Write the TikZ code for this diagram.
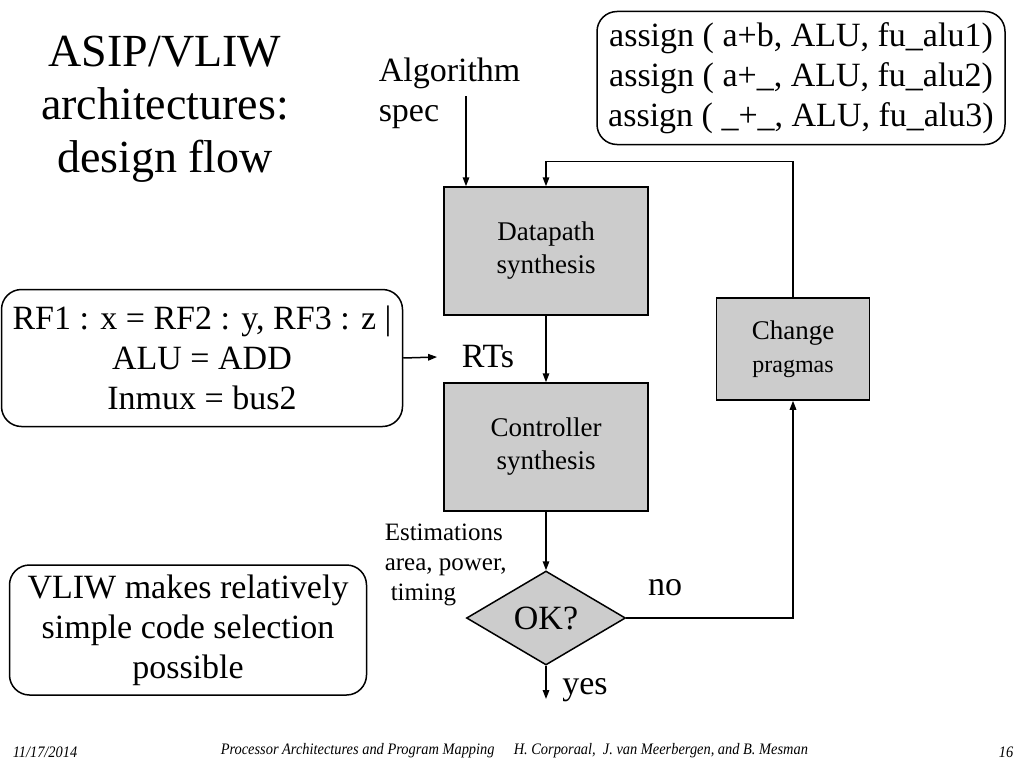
\documentclass[tikz,border=0pt]{standalone}
\usepackage{fontspec}
\setmainfont{Liberation Serif}
\usetikzlibrary{shapes.geometric,arrows.meta}
\tikzset{
  gbox/.style={draw, fill=black!20, inner sep=0pt, align=center, font=\fontsize{27}{33}\selectfont},
  rbox/.style={draw, rounded corners=20pt, inner sep=0pt, align=center},
  foot/.style={font=\fontsize{16}{18}\selectfont\itshape, inner sep=0pt}
}
\begin{document}
\begin{tikzpicture}[x=1pt, y=-1pt, line width=1.5pt, font=\fontsize{34}{40}\selectfont, >={Triangle[length=9pt,width=6.5pt]}]
	\useasboundingbox (0,0) rectangle (1024,768);
	\node[align=center, font=\fontsize{46}{53}\selectfont] (TT) at (165,109) {ASIP/VLIW\\architectures:\\design flow};
	\node[align=left, anchor=west, inner sep=0pt] (AL) at (378,93) {Algorithm\\spec};
	\coordinate (AT) at (466,96);
	\node[rbox, minimum width=408, minimum height=133] (AS) at (801,78) {assign ( a+b, ALU, fu\_alu1)\\assign ( a+\_, ALU, fu\_alu2)\\assign ( \_+\_, ALU, fu\_alu3)};
	\node[gbox, minimum width=204, minimum height=128] (DP) at (546,251) {\raisebox{-4pt}{\parbox{180pt}{\centering Datapath\\synthesis}}};
	\node[gbox, minimum width=204, minimum height=128] (CT) at (546,447) {\raisebox{-4pt}{\parbox{180pt}{\centering Controller\\synthesis}}};
	\node[gbox, minimum width=153, minimum height=102] (CH) at (793,349) {\raisebox{-4pt}{\parbox{140pt}{\centering Change\\{\fontsize{24}{30}\selectfont pragmas}}}};
	\node[rbox, minimum width=401, minimum height=137] (RF) at (202,358) {RF1 : x = RF2 : y, RF3 : z |\\ALU = ADD\\Inmux = bus2};
	\node[inner xsep=24pt] (RT) at (488,357) {RTs};
	\node[rbox, minimum width=357, minimum height=130] (VL) at (188,630) {VLIW makes relatively\\simple code selection\\possible};
	\node[draw, diamond, fill=black!20, inner sep=0pt, shape aspect=1.7, minimum width=159, minimum height=94] (OK) at (546,618) {\raisebox{-3pt}{OK?}};
	\node[align=left, anchor=west, inner sep=0pt, font=\fontsize{25}{30}\selectfont] (ES) at (384,565) {Estimations\\area, power,\\\hspace{6pt}timing};
	\node (NO) at (665,588) {no};
	\node (YS) at (585,690) {yes};
	\coordinate (YE) at (546,699);

	\node[foot, anchor=west] (DA) at (12,752) {\scalebox{0.9}[1]{11/17/2014}};
	\node[foot, anchor=west] (CO) at (220,751) {\scalebox{0.9}[1]{Processor Architectures and Program Mapping}};
	\node[foot, anchor=west] (AU) at (513,751) {\scalebox{0.9}[1]{H. Corporaal,\ \ J. van Meerbergen, and B. Mesman}};
	\node[foot, anchor=east] (PG) at (1014,752) {\scalebox{0.9}[1]{16}};

	\draw[->] (AT) -- (AT |- DP.north);
	\draw[->] (CH.north) -- ++(0,-136) -| (DP.north);
	\draw[->] (DP) -- (CT);
	\draw[->] (RF.east) -- (RT.west);
	\draw[->] (CT) -- (OK);
	\draw[->] (OK.east) -| (CH.south);
	\draw[->] (OK.south) -- (YE);
\end{tikzpicture}
\end{document}
